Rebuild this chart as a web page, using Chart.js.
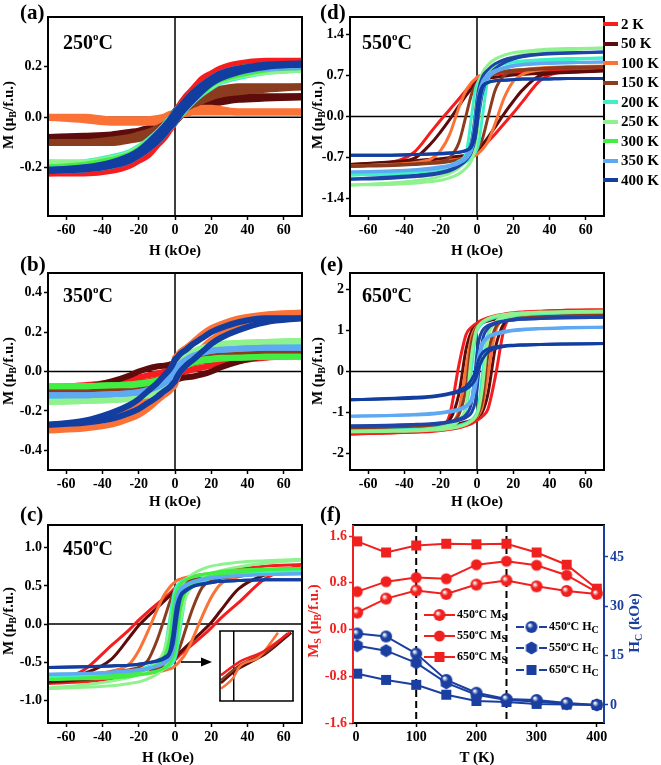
<!DOCTYPE html>
<html>
<head>
<meta charset="utf-8">
<title>Hysteresis loops</title>
<script src="https://cdn.jsdelivr.net/npm/chart.js@4.4.1/dist/chart.umd.min.js"></script>
<style>
  body { margin: 0; background: #fff; }
  #fig { position: relative; width: 661px; height: 765px; overflow: hidden;
         font-family: 'Liberation Serif', 'Times New Roman', serif; font-weight: bold; color: #000; }
  #fig canvas { position: absolute; }
  .txt { position: absolute; white-space: nowrap; line-height: 1; }
  .panel { font-size: 21px; }
  .temp { font-size: 20px; }
  .temp sup { font-size: 11px; vertical-align: 9px; }
  .xtitle { font-size: 15px; transform: translate(-50%, -50%); }
  .ytitle { font-size: 15px; transform: translate(-50%, -50%) rotate(-90deg); }
  .ytitle sub, .leg sub { font-size: 10px; vertical-align: -3px; }
  .leg { position: absolute; display: flex; align-items: center; white-space: nowrap; line-height: 1; }
  .leg sup { font-size: 7px; vertical-align: 5px; }
</style>
</head>
<body>
<div id="fig">
  <canvas id="cA" width="330" height="262" style="left:0;top:0"></canvas>
  <canvas id="cB" width="330" height="262" style="left:0;top:250px"></canvas>
  <canvas id="cC" width="330" height="265" style="left:0;top:500px"></canvas>
  <canvas id="cD" width="351" height="262" style="left:310px;top:0"></canvas>
  <canvas id="cE" width="351" height="262" style="left:310px;top:250px"></canvas>
  <canvas id="cF" width="351" height="265" style="left:310px;top:500px"></canvas>
  <canvas id="cInset" width="75" height="72" style="left:219px;top:630px;background:#fff"></canvas>

  <svg style="position:absolute;left:178px;top:656px" width="40" height="12">
    <line x1="3" y1="6" x2="27" y2="6" stroke="#000" stroke-width="1.6"/>
    <polygon points="34,6 23,1.5 23,10.5" fill="#000"/>
  </svg>

  <div class="txt panel" style="left:20px;top:2px">(a)</div>
  <div class="txt panel" style="left:20px;top:254px">(b)</div>
  <div class="txt panel" style="left:20px;top:504px">(c)</div>
  <div class="txt panel" style="left:320px;top:2px">(d)</div>
  <div class="txt panel" style="left:320px;top:254px">(e)</div>
  <div class="txt panel" style="left:320px;top:504px">(f)</div>

  <div class="txt temp" style="left:63px;top:31px">250<sup>o</sup>C</div>
  <div class="txt temp" style="left:63px;top:284px">350<sup>o</sup>C</div>
  <div class="txt temp" style="left:63px;top:537px">450<sup>o</sup>C</div>
  <div class="txt temp" style="left:362px;top:31px">550<sup>o</sup>C</div>
  <div class="txt temp" style="left:362px;top:284px">650<sup>o</sup>C</div>

  <div class="txt xtitle" style="left:175px;top:250px">H (kOe)</div>
  <div class="txt xtitle" style="left:175px;top:501px">H (kOe)</div>
  <div class="txt xtitle" style="left:168px;top:757px">H (kOe)</div>
  <div class="txt xtitle" style="left:477px;top:250px">H (kOe)</div>
  <div class="txt xtitle" style="left:477px;top:501px">H (kOe)</div>
  <div class="txt xtitle" style="left:477px;top:757px">T (K)</div>

  <div class="txt ytitle" style="left:9px;top:115px">M (μ<sub>B</sub>/f.u.)</div>
  <div class="txt ytitle" style="left:9px;top:371px">M (μ<sub>B</sub>/f.u.)</div>
  <div class="txt ytitle" style="left:9px;top:621px">M (μ<sub>B</sub>/f.u.)</div>
  <div class="txt ytitle" style="left:318px;top:115px">M (μ<sub>B</sub>/f.u.)</div>
  <div class="txt ytitle" style="left:318px;top:371px">M (μ<sub>B</sub>/f.u.)</div>
  <div class="txt ytitle" style="left:314px;top:621px;color:#f0201e">M<sub>S</sub> (μ<sub>B</sub>/f.u.)</div>
  <div class="txt ytitle" style="left:635px;top:623px;color:#1b3fa0">H<sub>C</sub> (kOe)</div>
</div>

<script>
const FONT = "'Liberation Serif', 'Times New Roman', serif";
const RED = '#f0201e';
const BLUE = '#1b3fa0';

// ---- hysteresis loops: field grid (kOe), temperatures, colours ----
const H = [-70, -50, -35, -25, -20, -15, -10, -6, -3, -1, 0, 1, 3, 6, 10, 15, 20, 25, 35, 50, 70];
const temps = ['2 K', '50 K', '100 K', '150 K', '200 K', '250 K', '300 K', '350 K', '400 K'];
const tempColors = ['#f51d1d', '#5e0b0b', '#fb7236', '#8b3c1e', '#3ff0c6', '#8ff28f', '#42ee42', '#5fa9f3', '#123ea0'];
// in (d) and (e) the 300 K loop is plotted in dark blue
const colorsDE = ['#f51d1d', '#5e0b0b', '#fb7236', '#8b3c1e', '#3ff0c6', '#8ff28f', '#1d45a8', '#5fa9f3', '#123ea0'];
const hTicks = [-60, -40, -20, 0, 20, 40, 60];

// (a) 250 C  -- upper (field decreasing) and lower (field increasing) branches
const aUp = [
  [-0.22,-0.21,-0.19,-0.16,-0.14,-0.11,-0.07,-0.04,-0.01,0.01,0.02,0.03,0.05,0.08,0.11,0.15,0.17,0.19,0.21,0.22,0.22],
  [-0.08,-0.075,-0.07,-0.06,-0.055,-0.045,-0.035,-0.02,-0.005,0.01,0.015,0.02,0.03,0.045,0.055,0.065,0.07,0.075,0.08,0.08,0.08],
  [0.0,0.0,-0.01,-0.01,-0.01,-0.01,-0.005,0.0,0.01,0.015,0.02,0.025,0.03,0.035,0.035,0.035,0.035,0.03,0.02,0.02,0.02],
  [-0.10,-0.10,-0.09,-0.08,-0.07,-0.06,-0.045,-0.03,-0.01,0.01,0.02,0.03,0.045,0.06,0.075,0.09,0.10,0.11,0.12,0.12,0.12],
  [-0.19,-0.18,-0.16,-0.14,-0.12,-0.095,-0.065,-0.035,-0.01,0.005,0.015,0.025,0.04,0.06,0.085,0.115,0.14,0.155,0.175,0.185,0.19],
  [-0.18,-0.18,-0.165,-0.145,-0.125,-0.1,-0.07,-0.04,-0.015,0.005,0.015,0.025,0.04,0.06,0.085,0.115,0.14,0.16,0.18,0.19,0.19],
  [-0.20,-0.19,-0.17,-0.15,-0.13,-0.1,-0.07,-0.04,-0.015,0.005,0.015,0.025,0.04,0.065,0.09,0.12,0.145,0.165,0.19,0.2,0.2],
  [-0.21,-0.2,-0.18,-0.155,-0.135,-0.105,-0.07,-0.04,-0.015,0.005,0.015,0.025,0.04,0.065,0.095,0.125,0.15,0.17,0.19,0.2,0.2],
  [-0.21,-0.2,-0.18,-0.155,-0.135,-0.105,-0.07,-0.04,-0.015,0.005,0.015,0.025,0.04,0.065,0.095,0.125,0.15,0.17,0.19,0.205,0.21]
];
const aLo = [
  [-0.22,-0.22,-0.21,-0.19,-0.17,-0.15,-0.11,-0.08,-0.05,-0.03,-0.02,-0.01,0.01,0.04,0.07,0.11,0.14,0.16,0.19,0.21,0.22],
  [-0.08,-0.08,-0.08,-0.075,-0.07,-0.065,-0.055,-0.045,-0.03,-0.02,-0.015,-0.01,0.005,0.02,0.035,0.045,0.055,0.06,0.07,0.075,0.08],
  [0.0,-0.01,-0.02,-0.02,-0.02,-0.02,-0.02,-0.015,-0.01,-0.005,0.0,0.005,0.01,0.015,0.02,0.02,0.02,0.02,0.02,0.02,0.02],
  [-0.10,-0.10,-0.10,-0.09,-0.085,-0.075,-0.06,-0.045,-0.03,-0.015,-0.005,0.005,0.02,0.035,0.05,0.065,0.08,0.09,0.10,0.11,0.12],
  [-0.19,-0.185,-0.175,-0.155,-0.14,-0.115,-0.085,-0.06,-0.04,-0.025,-0.015,-0.005,0.01,0.035,0.065,0.095,0.12,0.14,0.16,0.18,0.19],
  [-0.18,-0.185,-0.18,-0.16,-0.14,-0.115,-0.085,-0.06,-0.04,-0.025,-0.015,-0.005,0.015,0.04,0.07,0.1,0.125,0.145,0.165,0.18,0.19],
  [-0.2,-0.2,-0.19,-0.165,-0.145,-0.12,-0.09,-0.065,-0.04,-0.025,-0.015,-0.005,0.015,0.04,0.07,0.1,0.13,0.15,0.17,0.19,0.2],
  [-0.21,-0.205,-0.19,-0.17,-0.15,-0.125,-0.095,-0.065,-0.04,-0.025,-0.015,-0.005,0.015,0.04,0.07,0.105,0.135,0.155,0.18,0.195,0.2],
  [-0.21,-0.205,-0.19,-0.17,-0.15,-0.125,-0.095,-0.065,-0.04,-0.025,-0.015,-0.005,0.015,0.04,0.07,0.105,0.135,0.155,0.18,0.2,0.21]
];

// (b) 350 C
const bUp = [
  [-0.08,-0.07,-0.055,-0.04,-0.03,-0.02,-0.01,0.0,0.01,0.015,0.02,0.025,0.03,0.035,0.04,0.05,0.055,0.06,0.07,0.075,0.08],
  [-0.09,-0.08,-0.05,-0.02,0.0,0.015,0.025,0.03,0.035,0.04,0.04,0.045,0.05,0.055,0.06,0.065,0.07,0.075,0.08,0.085,0.09],
  [-0.29,-0.27,-0.23,-0.19,-0.16,-0.12,-0.07,-0.03,0.0,0.04,0.07,0.08,0.1,0.12,0.15,0.19,0.22,0.24,0.27,0.29,0.30],
  [-0.10,-0.10,-0.095,-0.09,-0.085,-0.075,-0.06,-0.04,-0.02,0.0,0.01,0.02,0.035,0.05,0.065,0.08,0.085,0.09,0.095,0.1,0.1],
  [-0.13,-0.13,-0.125,-0.12,-0.115,-0.1,-0.08,-0.055,-0.03,0.0,0.01,0.02,0.04,0.065,0.085,0.1,0.11,0.12,0.125,0.13,0.13],
  [-0.155,-0.15,-0.145,-0.135,-0.125,-0.11,-0.09,-0.065,-0.035,-0.005,0.01,0.02,0.045,0.075,0.1,0.12,0.13,0.14,0.145,0.15,0.155],
  [-0.075,-0.075,-0.07,-0.065,-0.06,-0.055,-0.045,-0.03,-0.015,0.0,0.01,0.015,0.025,0.04,0.05,0.06,0.065,0.07,0.07,0.075,0.075],
  [-0.12,-0.12,-0.115,-0.11,-0.105,-0.095,-0.075,-0.05,-0.025,0.0,0.01,0.02,0.04,0.06,0.08,0.095,0.105,0.11,0.115,0.12,0.12],
  [-0.27,-0.25,-0.21,-0.17,-0.14,-0.10,-0.06,-0.02,0.01,0.04,0.06,0.07,0.09,0.11,0.14,0.17,0.2,0.22,0.25,0.27,0.27]
];
const bLo = [
  [-0.08,-0.075,-0.07,-0.06,-0.055,-0.05,-0.04,-0.035,-0.03,-0.025,-0.02,-0.015,-0.01,0.0,0.01,0.02,0.03,0.04,0.055,0.07,0.08],
  [-0.09,-0.085,-0.08,-0.075,-0.07,-0.065,-0.06,-0.055,-0.05,-0.045,-0.04,-0.04,-0.035,-0.03,-0.025,-0.015,0.0,0.02,0.05,0.08,0.09],
  [-0.30,-0.29,-0.27,-0.24,-0.22,-0.19,-0.15,-0.12,-0.10,-0.08,-0.07,-0.04,0.0,0.03,0.07,0.12,0.16,0.19,0.23,0.27,0.29],
  [-0.10,-0.10,-0.095,-0.09,-0.085,-0.08,-0.065,-0.05,-0.035,-0.02,-0.01,0.0,0.02,0.04,0.06,0.075,0.085,0.09,0.095,0.1,0.1],
  [-0.13,-0.13,-0.125,-0.12,-0.11,-0.1,-0.085,-0.065,-0.04,-0.02,-0.01,0.0,0.03,0.055,0.08,0.1,0.115,0.12,0.125,0.13,0.13],
  [-0.155,-0.15,-0.145,-0.14,-0.13,-0.12,-0.1,-0.075,-0.045,-0.02,-0.01,0.005,0.035,0.065,0.09,0.11,0.125,0.135,0.145,0.15,0.155],
  [-0.075,-0.075,-0.07,-0.07,-0.065,-0.06,-0.05,-0.04,-0.025,-0.015,-0.01,0.0,0.015,0.03,0.045,0.055,0.06,0.065,0.07,0.075,0.075],
  [-0.12,-0.12,-0.115,-0.11,-0.105,-0.095,-0.08,-0.06,-0.04,-0.02,-0.01,0.0,0.025,0.05,0.075,0.095,0.105,0.11,0.115,0.12,0.12],
  [-0.27,-0.26,-0.24,-0.21,-0.19,-0.16,-0.13,-0.10,-0.08,-0.06,-0.05,-0.03,0.0,0.03,0.06,0.10,0.14,0.17,0.21,0.25,0.27]
];

// (c) 450 C
const cUp = [
  [-0.78,-0.60,-0.28,-0.07,0.05,0.16,0.26,0.34,0.40,0.45,0.47,0.49,0.52,0.55,0.58,0.62,0.65,0.68,0.72,0.76,0.78],
  [-0.76,-0.65,-0.46,-0.17,-0.02,0.10,0.21,0.30,0.37,0.42,0.44,0.47,0.51,0.55,0.58,0.61,0.63,0.65,0.68,0.71,0.73],
  [-0.72,-0.68,-0.62,-0.52,-0.35,-0.10,0.18,0.38,0.48,0.53,0.55,0.57,0.59,0.61,0.63,0.65,0.66,0.67,0.69,0.71,0.72],
  [-0.68,-0.66,-0.63,-0.60,-0.57,-0.48,-0.22,0.06,0.28,0.40,0.45,0.48,0.52,0.56,0.59,0.62,0.63,0.64,0.66,0.67,0.68],
  [-0.70,-0.68,-0.65,-0.62,-0.60,-0.56,-0.50,-0.38,0.05,0.35,0.45,0.50,0.55,0.59,0.62,0.64,0.66,0.67,0.68,0.69,0.70],
  [-0.84,-0.80,-0.75,-0.70,-0.66,-0.60,-0.50,-0.35,-0.05,0.20,0.30,0.38,0.48,0.58,0.66,0.72,0.76,0.78,0.81,0.83,0.85],
  [-0.73,-0.71,-0.68,-0.65,-0.63,-0.59,-0.53,-0.44,-0.20,0.20,0.35,0.43,0.52,0.58,0.62,0.65,0.67,0.69,0.71,0.72,0.73],
  [-0.66,-0.65,-0.63,-0.61,-0.60,-0.58,-0.55,-0.50,-0.38,-0.05,0.20,0.35,0.46,0.52,0.56,0.59,0.61,0.62,0.64,0.65,0.66],
  [-0.57,-0.56,-0.55,-0.54,-0.53,-0.51,-0.48,-0.44,-0.36,-0.10,0.10,0.25,0.38,0.45,0.50,0.53,0.55,0.56,0.57,0.58,0.58]
];
const cLo = [
  [-0.78,-0.76,-0.72,-0.68,-0.65,-0.62,-0.58,-0.55,-0.52,-0.49,-0.47,-0.45,-0.40,-0.34,-0.26,-0.16,-0.05,0.07,0.28,0.60,0.78],
  [-0.76,-0.73,-0.69,-0.66,-0.64,-0.62,-0.59,-0.56,-0.52,-0.48,-0.45,-0.42,-0.37,-0.30,-0.21,-0.10,0.02,0.17,0.46,0.65,0.73],
  [-0.72,-0.71,-0.69,-0.67,-0.66,-0.65,-0.63,-0.61,-0.59,-0.57,-0.55,-0.53,-0.48,-0.38,-0.18,0.10,0.35,0.52,0.62,0.68,0.72],
  [-0.68,-0.67,-0.66,-0.64,-0.63,-0.62,-0.59,-0.56,-0.52,-0.48,-0.45,-0.40,-0.28,-0.06,0.22,0.48,0.57,0.60,0.63,0.66,0.68],
  [-0.70,-0.69,-0.68,-0.67,-0.66,-0.64,-0.62,-0.59,-0.55,-0.50,-0.45,-0.35,-0.05,0.38,0.50,0.56,0.60,0.62,0.65,0.68,0.70],
  [-0.85,-0.83,-0.81,-0.78,-0.76,-0.72,-0.66,-0.58,-0.48,-0.38,-0.30,-0.20,0.05,0.35,0.50,0.60,0.66,0.70,0.75,0.80,0.84],
  [-0.73,-0.72,-0.71,-0.69,-0.67,-0.65,-0.62,-0.58,-0.52,-0.43,-0.35,-0.20,0.20,0.44,0.53,0.59,0.63,0.65,0.68,0.71,0.73],
  [-0.66,-0.65,-0.64,-0.62,-0.61,-0.59,-0.56,-0.52,-0.46,-0.35,-0.20,0.05,0.38,0.50,0.55,0.58,0.60,0.61,0.63,0.65,0.66],
  [-0.57,-0.56,-0.55,-0.54,-0.53,-0.51,-0.49,-0.46,-0.40,-0.26,-0.10,0.08,0.34,0.43,0.49,0.52,0.54,0.56,0.57,0.58,0.58]
];

// (d) 550 C
const dUp = [
  [-0.85,-0.80,-0.62,-0.25,-0.06,0.12,0.30,0.45,0.55,0.61,0.64,0.66,0.68,0.70,0.72,0.74,0.75,0.76,0.78,0.80,0.82],
  [-0.82,-0.78,-0.72,-0.45,-0.26,-0.05,0.18,0.36,0.48,0.56,0.59,0.61,0.63,0.65,0.67,0.69,0.71,0.72,0.74,0.76,0.78],
  [-0.85,-0.82,-0.79,-0.72,-0.58,-0.30,0.15,0.45,0.58,0.64,0.67,0.69,0.71,0.73,0.75,0.77,0.79,0.80,0.83,0.85,0.86],
  [-0.85,-0.83,-0.81,-0.79,-0.77,-0.70,-0.45,0.02,0.38,0.52,0.57,0.61,0.66,0.70,0.74,0.77,0.79,0.80,0.82,0.84,0.85],
  [-1.00,-0.97,-0.94,-0.91,-0.88,-0.84,-0.76,-0.62,0.0,0.45,0.55,0.62,0.70,0.78,0.85,0.90,0.93,0.95,0.97,0.99,1.00],
  [-1.17,-1.14,-1.10,-1.06,-1.02,-0.97,-0.88,-0.74,-0.45,0.05,0.35,0.55,0.75,0.88,0.98,1.05,1.09,1.11,1.14,1.16,1.17],
  [-1.07,-1.04,-1.01,-0.98,-0.95,-0.91,-0.83,-0.70,-0.42,0.0,0.28,0.48,0.68,0.80,0.90,0.97,1.01,1.04,1.07,1.09,1.10],
  [-0.95,-0.93,-0.91,-0.88,-0.86,-0.83,-0.77,-0.68,-0.45,-0.05,0.20,0.40,0.60,0.72,0.79,0.84,0.87,0.89,0.91,0.92,0.93],
  [-0.66,-0.66,-0.65,-0.64,-0.64,-0.63,-0.61,-0.58,-0.48,-0.15,0.15,0.35,0.52,0.58,0.61,0.62,0.63,0.64,0.64,0.65,0.65]
];
const dLo = [
  [-0.85,-0.82,-0.79,-0.77,-0.75,-0.73,-0.71,-0.69,-0.67,-0.65,-0.63,-0.60,-0.53,-0.43,-0.30,-0.12,0.06,0.25,0.62,0.78,0.82],
  [-0.82,-0.79,-0.76,-0.73,-0.72,-0.70,-0.68,-0.66,-0.63,-0.61,-0.59,-0.56,-0.48,-0.36,-0.18,0.05,0.26,0.45,0.70,0.75,0.78],
  [-0.85,-0.83,-0.81,-0.79,-0.77,-0.75,-0.73,-0.71,-0.69,-0.67,-0.65,-0.62,-0.56,-0.43,-0.12,0.32,0.60,0.72,0.80,0.84,0.86],
  [-0.85,-0.84,-0.82,-0.80,-0.79,-0.77,-0.74,-0.70,-0.66,-0.61,-0.57,-0.52,-0.38,-0.02,0.45,0.70,0.77,0.79,0.81,0.83,0.85],
  [-1.00,-0.99,-0.97,-0.95,-0.93,-0.90,-0.85,-0.78,-0.70,-0.62,-0.55,-0.45,0.0,0.62,0.76,0.84,0.88,0.91,0.94,0.97,1.00],
  [-1.17,-1.16,-1.14,-1.11,-1.09,-1.05,-0.98,-0.88,-0.75,-0.55,-0.35,-0.05,0.45,0.74,0.88,0.97,1.02,1.06,1.10,1.14,1.17],
  [-1.07,-1.06,-1.03,-1.00,-0.97,-0.93,-0.85,-0.75,-0.60,-0.38,-0.15,0.05,0.40,0.68,0.82,0.92,0.98,1.02,1.06,1.08,1.10],
  [-0.95,-0.94,-0.92,-0.90,-0.88,-0.85,-0.80,-0.72,-0.58,-0.30,-0.10,0.12,0.45,0.66,0.76,0.82,0.86,0.88,0.90,0.92,0.93],
  [-0.66,-0.66,-0.65,-0.64,-0.63,-0.62,-0.61,-0.58,-0.52,-0.35,-0.15,0.15,0.48,0.58,0.61,0.62,0.63,0.64,0.64,0.65,0.65]
];

// (e) 650 C
const eUp = [
  [-1.52,-1.50,-1.47,-1.42,-1.36,-1.05,0.15,0.90,1.08,1.15,1.18,1.21,1.26,1.31,1.36,1.40,1.43,1.45,1.47,1.49,1.50],
  [-1.40,-1.38,-1.36,-1.33,-1.30,-1.18,-0.55,0.55,0.98,1.08,1.12,1.15,1.19,1.23,1.27,1.31,1.33,1.34,1.36,1.37,1.38],
  [-1.44,-1.42,-1.40,-1.37,-1.34,-1.27,-0.95,0.10,0.85,1.05,1.11,1.15,1.21,1.27,1.32,1.36,1.38,1.40,1.42,1.43,1.44],
  [-1.40,-1.38,-1.36,-1.33,-1.30,-1.25,-1.05,-0.40,0.70,1.00,1.08,1.13,1.19,1.25,1.30,1.33,1.35,1.36,1.38,1.39,1.40],
  [-1.45,-1.43,-1.41,-1.38,-1.35,-1.30,-1.18,-0.90,0.05,0.80,1.00,1.08,1.18,1.26,1.32,1.37,1.40,1.41,1.43,1.44,1.45],
  [-1.47,-1.45,-1.43,-1.40,-1.37,-1.32,-1.20,-0.80,0.40,0.92,1.05,1.12,1.21,1.29,1.35,1.39,1.42,1.43,1.45,1.46,1.47],
  [-1.33,-1.31,-1.29,-1.27,-1.25,-1.22,-1.16,-1.05,-0.75,0.0,0.45,0.75,1.00,1.12,1.19,1.23,1.26,1.28,1.30,1.31,1.32],
  [-1.09,-1.07,-1.05,-1.02,-1.00,-0.96,-0.91,-0.83,-0.65,-0.15,0.15,0.40,0.70,0.85,0.93,0.98,1.01,1.03,1.05,1.07,1.08],
  [-0.69,-0.66,-0.63,-0.60,-0.57,-0.53,-0.46,-0.36,-0.20,-0.02,0.15,0.30,0.45,0.55,0.60,0.63,0.64,0.65,0.66,0.67,0.68]
];
const eLo = [
  [-1.52,-1.50,-1.48,-1.46,-1.44,-1.41,-1.37,-1.32,-1.27,-1.22,-1.19,-1.16,-1.09,-0.92,-0.15,1.05,1.36,1.42,1.46,1.49,1.50],
  [-1.40,-1.38,-1.36,-1.34,-1.33,-1.31,-1.27,-1.23,-1.19,-1.15,-1.12,-1.08,-0.98,-0.55,0.55,1.18,1.30,1.33,1.36,1.37,1.38],
  [-1.44,-1.43,-1.42,-1.40,-1.38,-1.36,-1.32,-1.27,-1.21,-1.15,-1.11,-1.05,-0.85,-0.10,0.95,1.27,1.34,1.37,1.40,1.42,1.44],
  [-1.40,-1.39,-1.38,-1.36,-1.35,-1.33,-1.30,-1.25,-1.19,-1.13,-1.08,-1.00,-0.70,0.40,1.05,1.25,1.30,1.33,1.36,1.38,1.40],
  [-1.45,-1.44,-1.43,-1.41,-1.40,-1.37,-1.32,-1.26,-1.18,-1.08,-1.00,-0.80,-0.05,0.90,1.18,1.30,1.35,1.38,1.41,1.43,1.45],
  [-1.47,-1.46,-1.45,-1.43,-1.42,-1.39,-1.35,-1.29,-1.21,-1.12,-1.05,-0.92,-0.40,0.80,1.20,1.32,1.37,1.40,1.43,1.45,1.47],
  [-1.33,-1.32,-1.30,-1.28,-1.26,-1.23,-1.19,-1.12,-1.00,-0.75,-0.45,0.0,0.75,1.05,1.16,1.22,1.25,1.27,1.29,1.31,1.32],
  [-1.09,-1.08,-1.06,-1.04,-1.02,-0.99,-0.94,-0.86,-0.72,-0.42,-0.15,0.12,0.62,0.82,0.90,0.95,0.99,1.01,1.04,1.06,1.08],
  [-0.69,-0.67,-0.65,-0.62,-0.59,-0.55,-0.50,-0.43,-0.32,-0.20,-0.08,0.08,0.30,0.47,0.56,0.61,0.63,0.64,0.66,0.67,0.68]
];

// inset of (c): low-field detail of the 2-150 K loops (arbitrary units)
const insetRed = [[1.4, 36.8], [26.6, 56], [58.7, 70.3], [95.4, 97.6]];
const insetMaroon = [[1.4, 25.8], [22, 44], [40.4, 54.5], [63.3, 68], [97.7, 97.6]];
const insetOrange = [[1.4, 17.7], [17.4, 32], [26.6, 48.8], [54, 63], [79.4, 97.6]];
const insetBrown = [[1.4, 29.7], [26.6, 51], [63.3, 70], [93, 96.7]];
const insetZero = 18.8;

// (f) saturation magnetisation and coercivity vs T
const fT = [2, 50, 100, 150, 200, 250, 300, 350, 400];
const ms450 = [0.29, 0.53, 0.67, 0.61, 0.77, 0.84, 0.74, 0.66, 0.61];
const ms550 = [0.65, 0.82, 0.89, 0.87, 1.11, 1.17, 1.10, 0.93, 0.64];
const ms650 = [1.51, 1.32, 1.44, 1.47, 1.46, 1.47, 1.32, 1.11, 0.70];
const hc450 = [21.7, 20.8, 15.6, 7.6, 3.7, 1.8, 1.5, 0.6, 0.0];
const hc550 = [18.0, 16.5, 12.8, 6.7, 3.1, 1.5, 1.0, 0.3, 0.0];
const hc650 = [9.5, 7.6, 6.1, 3.1, 1.2, 0.9, 0.3, 0.1, 0.0];
const dashT = [100, 250];
const tTicks = [0, 100, 200, 300, 400];
const msTicks = [-1.6, -0.8, 0, 0.8, 1.6];
const hcTicks = [0, 15, 30, 45];

Chart.defaults.font.family = FONT;

// frame, zero lines and dashed markers
const framePlugin = {
  id: 'frame',
  beforeDatasetsDraw(chart, args, opts) {
    const {ctx, chartArea: a, scales} = chart;
    ctx.save();
    if (opts.zero) {
      ctx.strokeStyle = '#000';
      ctx.lineWidth = 1.5;
      const x0 = scales.x.getPixelForValue(0), y0 = scales.y.getPixelForValue(0);
      ctx.beginPath();
      ctx.moveTo(a.left, y0); ctx.lineTo(a.right, y0);
      ctx.moveTo(x0, a.top); ctx.lineTo(x0, a.bottom);
      ctx.stroke();
    }
    if (opts.vlines) {
      const v = opts.vlines;
      ctx.strokeStyle = '#000';
      ctx.lineWidth = v.width;
      ctx.setLineDash(v.dash);
      v.values.forEach(t => {
        const x = scales.x.getPixelForValue(t);
        ctx.beginPath(); ctx.moveTo(x, a.top); ctx.lineTo(x, a.bottom); ctx.stroke();
      });
    }
    ctx.restore();
  },
  afterDatasetsDraw(chart, args, opts) {
    const {ctx, chartArea: a} = chart;
    const s = opts.sides || ['#000', '#000', '#000', '#000'];
    const w = opts.width || 2;
    ctx.save();
    ctx.lineWidth = w;
    const seg = (c, x1, y1, x2, y2) => { ctx.strokeStyle = c; ctx.beginPath(); ctx.moveTo(x1, y1); ctx.lineTo(x2, y2); ctx.stroke(); };
    seg(s[0], a.left - w / 2, a.top, a.right + w / 2, a.top);
    seg(s[2], a.left - w / 2, a.bottom, a.right + w / 2, a.bottom);
    seg(s[3], a.left, a.top, a.left, a.bottom);
    seg(s[1], a.right, a.top, a.right, a.bottom);
    ctx.restore();
  }
};
Chart.register(framePlugin);

function axisX(ticks, min, max, h) {
  return {
    type: 'linear', position: 'bottom', min, max,
    afterBuildTicks: s => { s.ticks = ticks.map(v => ({value: v})); },
    afterFit: s => { s.height = h; },
    border: {display: false},
    grid: {drawOnChartArea: false, tickLength: 4, tickWidth: 1.5, tickColor: '#000'},
    ticks: {color: '#000', padding: 2, maxRotation: 0, autoSkip: false,
            font: {family: FONT, weight: 'bold', size: 14}}
  };
}
function axisY(ticks, min, max, w, fmt, color, pos) {
  return {
    type: 'linear', position: pos, min, max,
    afterBuildTicks: s => { s.ticks = ticks.map(v => ({value: v})); },
    afterFit: s => { s.width = w; },
    border: {display: false},
    grid: {drawOnChartArea: false, tickLength: 4, tickWidth: 1.5, tickColor: color},
    ticks: {color, padding: 2, autoSkip: false, callback: fmt,
            font: {family: FONT, weight: 'bold', size: 14}}
  };
}
const f1 = v => v.toFixed(1);
const f0 = v => String(v);

function loopChart(id, up, lo, colors, cfg) {
  const datasets = [];
  for (let i = temps.length - 1; i >= 0; i--) {
    [up[i], lo[i]].forEach(branch => datasets.push({
      label: temps[i],
      data: H.map((h, k) => ({x: h, y: branch[k]})),
      borderColor: colors[i],
      borderWidth: cfg.lw,
      pointRadius: 0,
      cubicInterpolationMode: 'monotone',
      borderJoinStyle: 'round',
      borderCapStyle: 'round'
    }));
  }
  return new Chart(document.getElementById(id), {
    type: 'line',
    data: {datasets},
    options: {
      responsive: false, animation: false, events: [],
      layout: {padding: {top: cfg.top, right: cfg.right, left: 0, bottom: 0}},
      plugins: {legend: {display: false}, tooltip: {enabled: false}, frame: {zero: true}},
      scales: {
        x: axisX(hTicks, -70, 70, cfg.xh),
        y: axisY(cfg.ticks, cfg.min, cfg.max, cfg.yw, cfg.fmt, '#000', 'left')
      }
    }
  });
}

loopChart('cA', aUp, aLo, tempColors, {lw: 7, top: 17, right: 28, yw: 48, xh: 46,
  min: -0.39, max: 0.395, ticks: [-0.2, 0, 0.2], fmt: f1});
loopChart('cB', bUp, bLo, tempColors, {lw: 6, top: 23, right: 28, yw: 48, xh: 42,
  min: -0.5, max: 0.5, ticks: [-0.4, -0.2, 0, 0.2, 0.4], fmt: f1});
loopChart('cC', cUp, cLo, tempColors, {lw: 3, top: 25, right: 28, yw: 48, xh: 42,
  min: -1.3, max: 1.3, ticks: [-1.0, -0.5, 0, 0.5, 1.0], fmt: f1});
loopChart('cD', dUp, dLo, colorsDE, {lw: 3, top: 17, right: 57, yw: 40, xh: 46,
  min: -1.7, max: 1.7, ticks: [-1.4, -0.7, 0, 0.7, 1.4], fmt: f1});
loopChart('cE', eUp, eLo, colorsDE, {lw: 3, top: 23, right: 57, yw: 40, xh: 42,
  min: -2.4, max: 2.4, ticks: [-2, -1, 0, 1, 2], fmt: f0});

// inset
const insetSets = [[insetRed, tempColors[0]], [insetOrange, tempColors[2]], [insetBrown, tempColors[3]], [insetMaroon, tempColors[1]]];
new Chart(document.getElementById('cInset'), {
  type: 'line',
  data: {datasets: insetSets.map(([pts, c]) => ({
    data: pts.map(p => ({x: p[0], y: p[1]})), borderColor: c, borderWidth: 2.5,
    pointRadius: 0, cubicInterpolationMode: 'monotone'}))},
  options: {
    responsive: false, animation: false, events: [],
    layout: {padding: 1},
    plugins: {legend: {display: false}, tooltip: {enabled: false},
              frame: {width: 1.6, vlines: {values: [insetZero], dash: [], width: 1.5}}},
    scales: {x: {type: 'linear', display: false, min: 0, max: 100},
             y: {display: false, min: 0, max: 100}}
  }
});

// legend of (d)
const fig = document.getElementById('fig');
temps.forEach((t, i) => {
  const row = document.createElement('div');
  row.className = 'leg';
  row.style.left = '603px';
  row.style.top = (24 + 19.5 * i - 8) + 'px';
  row.style.height = '16px';
  row.innerHTML = '<span style="display:inline-block;width:15px;height:4px;background:' + tempColors[i] +
    ';margin-right:3px"></span><span style="font-size:15px">' + t + '</span>';
  fig.appendChild(row);
});

// markers for (f)
function marker(kind, color) {
  const c = document.createElement('canvas');
  c.width = 14; c.height = 14;
  const g = c.getContext('2d');
  g.fillStyle = color;
  if (kind === 'sphere') {
    const grd = g.createRadialGradient(5, 5, 0.5, 7, 7, 6.2);
    grd.addColorStop(0, '#ffffff');
    grd.addColorStop(0.45, color);
    grd.addColorStop(1, color);
    g.fillStyle = grd;
    g.beginPath(); g.arc(7, 7, 6, 0, Math.PI * 2); g.fill();
  } else if (kind === 'dot') {
    g.beginPath(); g.arc(7, 7, 5.5, 0, Math.PI * 2); g.fill();
  } else if (kind === 'square') {
    g.fillRect(2, 2, 10, 10);
  } else if (kind === 'hex') {
    g.beginPath();
    for (let k = 0; k < 6; k++) {
      const ang = Math.PI / 3 * k + Math.PI / 6;
      const px = 7 + 6.4 * Math.cos(ang), py = 7 + 6.4 * Math.sin(ang);
      if (k === 0) g.moveTo(px, py); else g.lineTo(px, py);
    }
    g.closePath(); g.fill();
  }
  return c;
}
const mk = {
  ms450: marker('sphere', RED), ms550: marker('dot', RED), ms650: marker('square', RED),
  hc450: marker('sphere', BLUE), hc550: marker('hex', BLUE), hc650: marker('square', BLUE)
};

const fSeries = [
  {data: ms450, axis: 'yL', color: RED, pt: mk.ms450},
  {data: ms550, axis: 'yL', color: RED, pt: mk.ms550},
  {data: ms650, axis: 'yL', color: RED, pt: mk.ms650},
  {data: hc450, axis: 'yR', color: BLUE, pt: mk.hc450},
  {data: hc550, axis: 'yR', color: BLUE, pt: mk.hc550},
  {data: hc650, axis: 'yR', color: BLUE, pt: mk.hc650}
];
new Chart(document.getElementById('cF'), {
  type: 'line',
  data: {datasets: fSeries.map(s => ({
    data: fT.map((t, i) => ({x: t, y: s.data[i]})),
    yAxisID: s.axis, borderColor: s.color, backgroundColor: s.color, borderWidth: 2,
    pointStyle: s.pt, pointRadius: 6, tension: 0}))},
  options: {
    responsive: false, animation: false, events: [],
    layout: {padding: {top: 25, right: 0, left: 0, bottom: 0}},
    plugins: {legend: {display: false}, tooltip: {enabled: false},
              frame: {sides: ['#000', BLUE, '#000', RED], vlines: {values: dashT, dash: [7, 4], width: 2}}},
    scales: {
      x: axisX(tTicks, -5, 412, 42),
      yL: axisY(msTicks, -1.6, 1.79, 43, f1, RED, 'left'),
      yR: axisY(hcTicks, -5.5, 54.7, 57, f0, BLUE, 'right')
    }
  }
});

// legend of (f)
const fLegend = [
  {html: '450<sup>o</sup>C M<sub>S</sub>', pt: mk.ms450, color: RED, gap: false, x: 424, y: 615},
  {html: '550<sup>o</sup>C M<sub>S</sub>', pt: mk.ms550, color: RED, gap: false, x: 424, y: 636},
  {html: '650<sup>o</sup>C M<sub>S</sub>', pt: mk.ms650, color: RED, gap: false, x: 424, y: 657},
  {html: '450<sup>o</sup>C H<sub>C</sub>', pt: mk.hc450, color: BLUE, gap: true, x: 516, y: 627},
  {html: '550<sup>o</sup>C H<sub>C</sub>', pt: mk.hc550, color: BLUE, gap: true, x: 516, y: 648},
  {html: '650<sup>o</sup>C H<sub>C</sub>', pt: mk.hc650, color: BLUE, gap: true, x: 516, y: 670}
];
fLegend.forEach(e => {
  const row = document.createElement('div');
  row.className = 'leg';
  row.style.left = e.x + 'px';
  row.style.top = (e.y - 7) + 'px';
  row.style.height = '14px';
  row.style.fontSize = '12px';
  const c = document.createElement('canvas');
  c.width = 31; c.height = 14;
  c.style.position = 'static';
  c.style.marginRight = '2px';
  const g = c.getContext('2d');
  g.strokeStyle = e.color; g.lineWidth = 2;
  g.beginPath();
  if (e.gap) { g.moveTo(0, 7); g.lineTo(8, 7); g.moveTo(23, 7); g.lineTo(31, 7); }
  else { g.moveTo(0, 7); g.lineTo(31, 7); }
  g.stroke();
  g.drawImage(e.pt, 8.5, 0);
  row.appendChild(c);
  const sp = document.createElement('span');
  sp.innerHTML = e.html;
  row.appendChild(sp);
  fig.appendChild(row);
});
</script>
</body>
</html>
